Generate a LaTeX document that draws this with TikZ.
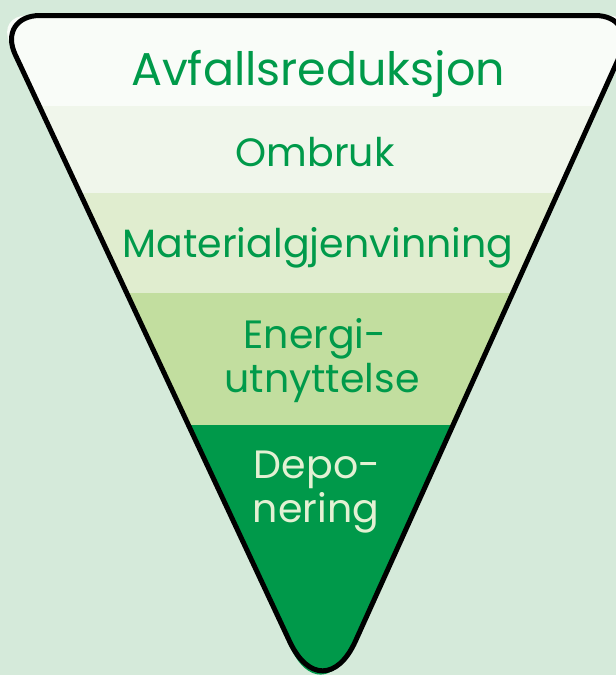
\documentclass[tikz,border=0pt]{standalone}
\usepackage{fontspec}
\setmainfont{Poppins}
\definecolor{bg}{HTML}{D5EADA}
\definecolor{bandA}{HTML}{F9FCF8}
\definecolor{bandB}{HTML}{F0F6EB}
\definecolor{bandC}{HTML}{E0EDCF}
\definecolor{bandD}{HTML}{C2DE9F}
\definecolor{bandE}{HTML}{00994A}
\definecolor{txtgreen}{HTML}{009A4A}
\definecolor{txtlight}{HTML}{E3F1D3}
\tikzset{
  lbl/.style={anchor=base, text=txtgreen, font=\fontsize{39.5}{44}\selectfont, inner sep=0pt},
  lbllight/.style={lbl, text=txtlight},
  titlelbl/.style={lbl, font=\fontsize{46}{52}\selectfont},
  outline/.style={draw=black, line width=5pt, line join=round}
}
\begin{document}
\begin{tikzpicture}[x=1pt,y=-1pt]
\useasboundingbox (0,0) rectangle (616,675);
\fill[bg] (0,0) rectangle (616,675);
% fill shape (slightly tighter corners)
\begin{scope}
\clip (27,15.5) -- (608,15.5) .. controls (624.5,15.5) and (632.4,27.8) .. (625.65,42.8)
  -- (350.6,647.4) .. controls (334.3,683.5) and (307.3,683.7) .. (290.5,647.8)
  -- (9.7,42.7) .. controls (2.7,27.7) and (10.5,15.5) .. (27,15.5) -- cycle;
\fill[bandA] (0,0) rectangle (616,105.5);
\fill[bandB] (0,105.5) rectangle (616,192.5);
\fill[bandC] (0,192.5) rectangle (616,293);
\fill[bandD] (0,293) rectangle (616,425);
\fill[bandE] (0,425) rectangle (616,675);
\end{scope}
% outline
\draw[outline] (40,15.5) -- (595,15.5) .. controls (618.65,15.5) and (630,33.1) .. (620.3,54.7)
  -- (355.5,641.0) .. controls (337.6,680.6) and (308,680.8) .. (289.6,641.4)
  -- (15.2,54.5) .. controls (5.2,33.05) and (16.35,15.5) .. (40,15.5) -- cycle;
% labels
\node[titlelbl] (t1) at (318,85) {Avfallsreduksjon};
\node[lbl] (t2) at (315,166) {Ombruk};
\node[lbl] (t3) at (318,257) {Materialgjenvinning};
\node[lbl] (t4a) at (315,348) {Energi-};
\node[lbl] (t4b) at (322,392) {utnyttelse};
\node[lbllight] (t5a) at (317,478) {Depo-};
\node[lbllight] (t5b) at (316,522) {nering};
\end{tikzpicture}
\end{document}
